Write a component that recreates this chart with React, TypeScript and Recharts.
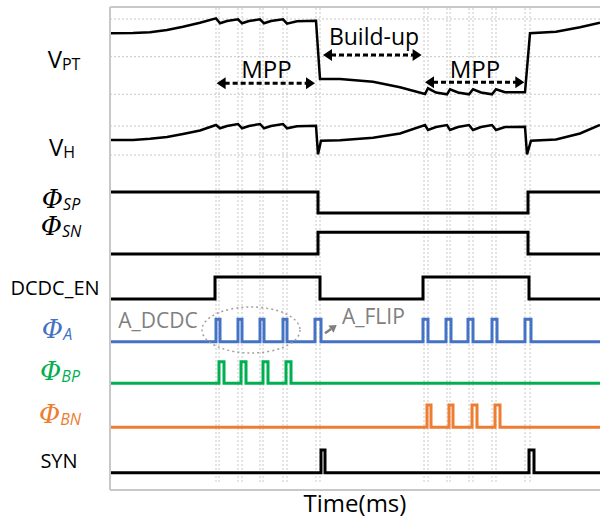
import React from 'react';
import { LineChart, Line, XAxis, YAxis, ReferenceLine, ReferenceDot } from 'recharts';

// time axis in ms
const T_END = 9.8;

// analog traces (normalised)
const vptTime = [0, 0.46, 0.8, 1.14, 1.46, 1.8, 2.12, 2.2, 2.34, 2.56, 2.64, 2.78, 3.0, 3.08, 3.22, 3.46, 3.54, 3.74, 4.12, 4.2, 4.6, 5.26, 5.8, 6.3, 6.36, 6.52, 6.74, 6.8, 6.96, 7.18, 7.26, 7.42, 7.64, 7.72, 7.9, 8.3, 8.4, 8.92, 9.4, 9.8];
const vptValue = [0.81, 0.814, 0.823, 0.854, 0.898, 0.951, 1.009, 0.943, 0.973, 0.996, 0.943, 0.973, 0.996, 0.943, 0.973, 0.996, 0.938, 0.969, 0.977, 0.203, 0.203, 0.167, 0.093, 0.004, 0.08, 0.024, 0, 0.066, 0.024, 0, 0.066, 0.024, 0, 0.066, 0.027, 0.027, 0.81, 0.831, 0.89, 0.951];

const vhTime = [0, 0.46, 0.8, 1.14, 1.46, 1.8, 2.12, 2.2, 2.34, 2.56, 2.64, 2.78, 3.0, 3.08, 3.22, 3.46, 3.54, 3.74, 4.12, 4.16, 4.22, 4.6, 5.26, 5.8, 6.3, 6.36, 6.52, 6.74, 6.8, 6.96, 7.18, 7.26, 7.42, 7.64, 7.72, 7.9, 8.3, 8.34, 8.42, 8.92, 9.4, 9.8];
const vhValue = [0.517, 0.517, 0.559, 0.621, 0.724, 0.845, 1.034, 0.921, 1.0, 1.069, 0.921, 1.0, 1.069, 0.921, 1.0, 1.069, 0.921, 0.993, 1.01, 0.024, 0.493, 0.507, 0.597, 0.741, 1.034, 0.862, 0.966, 1.034, 0.862, 0.966, 1.034, 0.862, 0.966, 1.034, 0.862, 0.966, 0.976, 0.024, 0.493, 0.534, 0.741, 1.034];

// digital signals
const phiSpStart = 1;
const phiSpToggles = [4.16, 8.36];
const phiSnStart = 0;
const phiSnToggles = [4.16, 8.36];
const dcdcEnPulses = [[2.1, 4.2], [6.26, 8.38]];
const phiAPulses = [[2.12, 2.2], [2.56, 2.64], [3.0, 3.08], [3.46, 3.54], [4.1, 4.22], [6.26, 6.36], [6.72, 6.82], [7.16, 7.26], [7.64, 7.74], [8.3, 8.42]];
const phiBpPulses = [[2.18, 2.28], [2.62, 2.72], [3.06, 3.16], [3.52, 3.62]];
const phiBnPulses = [[6.34, 6.42], [6.78, 6.86], [7.24, 7.34], [7.7, 7.8]];
const synPulses = [[4.22, 4.3], [8.38, 8.48]];

// dotted time markers
const gridTimes = [2.12, 2.18, 2.56, 2.64, 3.0, 3.06, 3.46, 3.54, 4.12, 4.2, 6.28, 6.36, 6.74, 6.8, 7.18, 7.26, 7.64, 7.72, 8.3, 8.4];

// lane layout: plotted value = base + level * amp (y domain 0..483)
const LANES: Record<string, { base: number; amp: number }> = {
  vpt: { base: 395.7, amp: 75.3 },
  vh: { base: 335, amp: 29 },
  sp: { base: 277, amp: 21 },
  sn: { base: 236, amp: 21.7 },
  en: { base: 191, amp: 22 },
  a: { base: 148.3, amp: 22.4 },
  bp: { base: 106.7, amp: 21.6 },
  bn: { base: 62.7, amp: 22.3 },
  syn: { base: 17.3, amp: 22.7 },
};
const Y_MAX = 483;

const lane = (key: string, v: number) => LANES[key].base + v * LANES[key].amp;

const analog = (key: string, ts: number[], vs: number[]) => ts.map((t, i) => ({ t, y: lane(key, vs[i]) }));

const fromPulses = (key: string, pulses: number[][]) => {
  const pts = [{ t: 0, y: lane(key, 0) }];
  pulses.forEach(([a, b]) => {
    pts.push({ t: a, y: lane(key, 1) });
    pts.push({ t: b, y: lane(key, 0) });
  });
  pts.push({ t: T_END, y: lane(key, 0) });
  return pts;
};

const fromToggles = (key: string, start: number, toggles: number[]) => {
  let l = start;
  const pts = [{ t: 0, y: lane(key, l) }];
  toggles.forEach((t) => {
    l = 1 - l;
    pts.push({ t, y: lane(key, l) });
  });
  pts.push({ t: T_END, y: lane(key, l) });
  return pts;
};

const vptData = analog('vpt', vptTime, vptValue);
const vhData = analog('vh', vhTime, vhValue);
const spData = fromToggles('sp', phiSpStart, phiSpToggles);
const snData = fromToggles('sn', phiSnStart, phiSnToggles);
const enData = fromPulses('en', dcdcEnPulses);
const aData = fromPulses('a', phiAPulses);
const bpData = fromPulses('bp', phiBpPulses);
const bnData = fromPulses('bn', phiBnPulses);
const synData = fromPulses('syn', synPulses);

const gridLevels = [lane('vpt', 0), lane('vpt', 0.5), lane('vpt', 1), lane('vh', 0), lane('vh', 1)];

const BLUE = '#4472C4';
const GREEN = '#00B050';
const ORANGE = '#ED7D31';
const GRAY = '#C8C8C8';

const sigLabels = [
  { value: 422.3, main: 'V', sub: 'PT', color: '#000', cx: 64, phi: false },
  { value: 334, main: 'V', sub: 'H', color: '#000', cx: 62, phi: false },
  { value: 282, main: 'Φ', sub: 'SP', color: '#000', cx: 61, phi: true },
  { value: 255, main: 'Φ', sub: 'SN', color: '#000', cx: 61, phi: true },
  { value: 195, main: 'DCDC_EN', sub: '', color: '#000', cx: 55, phi: false },
  { value: 152, main: 'Φ', sub: 'A', color: BLUE, cx: 57, phi: true },
  { value: 110, main: 'Φ', sub: 'BP', color: GREEN, cx: 60, phi: true },
  { value: 67, main: 'Φ', sub: 'BN', color: ORANGE, cx: 60, phi: true },
  { value: 22, main: 'SYN', sub: '', color: '#000', cx: 59, phi: false },
];

function LabelTick(props: any) {
  const { y, payload } = props;
  const lab = sigLabels.find((l) => Math.abs(l.value - payload.value) < 0.01);
  if (!lab) return null;
  return (
    <text x={lab.cx} y={y} textAnchor="middle" fill={lab.color} fontFamily="Open Sans">
      {lab.phi ? (
        <tspan fontFamily="DejaVu Serif" fontStyle="italic" fontSize={26}>{lab.main}</tspan>
      ) : (
        <tspan fontSize={lab.sub ? 24 : 20}>{lab.main}</tspan>
      )}
      {lab.sub ? (
        <tspan fontSize={16} dy={2} fontStyle={lab.phi ? 'italic' : 'normal'}>{lab.sub}</tspan>
      ) : null}
    </text>
  );
}

function DoubleArrow(props: any) {
  const { x1, y1, x2, y2 } = props;
  const h = 8;
  const w = 6;
  return (
    <g>
      <line x1={x1 + h} y1={y1} x2={x2 - h} y2={y2} stroke="#000" strokeWidth={3} strokeDasharray="5 3" />
      <polygon points={`${x1},${y1} ${x1 + h + 1},${y1 - w} ${x1 + h + 1},${y1 + w}`} fill="#000" />
      <polygon points={`${x2},${y2} ${x2 - h - 1},${y2 - w} ${x2 - h - 1},${y2 + w}`} fill="#000" />
    </g>
  );
}

function GrayArrow(props: any) {
  const { x1, y1, x2, y2 } = props;
  const dx = x2 - x1;
  const dy = y2 - y1;
  const len = Math.sqrt(dx * dx + dy * dy);
  const ux = dx / len;
  const uy = dy / len;
  const h = 7;
  const w = 4.5;
  const bx = x2 - ux * h;
  const by = y2 - uy * h;
  return (
    <g>
      <line x1={x1} y1={y1} x2={bx} y2={by} stroke="#7F7F7F" strokeWidth={2.5} />
      <polygon
        points={`${x2},${y2} ${bx - uy * w},${by + ux * w} ${bx + uy * w},${by - ux * w}`}
        fill="#7F7F7F"
      />
    </g>
  );
}

const textShape = (label: string, size: number, color: string, anchor: string) => (p: any) => (
  <text x={p.cx} y={p.cy} textAnchor={anchor} fontFamily="Open Sans" fontSize={size} fill={color}>
    {label}
  </text>
);

const ellipseShape = (p: any) => (
  <ellipse cx={p.cx} cy={p.cy} rx={49} ry={23} fill="none" stroke="#A0A0A0" strokeWidth={1.5} strokeDasharray="2 3" />
);

export default function App() {
  const lineCommon = { dataKey: 'y', dot: false, isAnimationActive: false, yAxisId: 'lab', activeDot: false } as const;
  return (
    <div style={{ position: 'absolute', left: 0, top: 0, width: 600, height: 521, background: '#fff' }}>
      <LineChart width={600} height={521} margin={{ top: 7, right: 0, bottom: 0, left: 0 }}>
        <XAxis
          type="number"
          dataKey="t"
          domain={[0, T_END]}
          tick={false}
          tickLine={false}
          axisLine={{ stroke: GRAY, strokeWidth: 2 }}
          height={31}
          allowDataOverflow
          label={{ value: 'Time(ms)', position: 'insideBottom', offset: 9, fontSize: 24, fontFamily: 'Open Sans', fill: '#000' }}
        />
        <YAxis
          yAxisId="lab"
          type="number"
          domain={[0, Y_MAX]}
          ticks={sigLabels.map((l) => l.value)}
          interval={0}
          width={110}
          tickLine={false}
          axisLine={{ stroke: GRAY, strokeWidth: 2 }}
          tick={(p: any) => <LabelTick {...p} />}
          allowDataOverflow
        />
        <ReferenceLine yAxisId="lab" y={Y_MAX} stroke={GRAY} strokeWidth={2} />
        {gridLevels.map((v) => (
          <ReferenceLine key={`h${v}`} yAxisId="lab" y={v} stroke={GRAY} strokeWidth={1} strokeDasharray="2 2" />
        ))}
        {gridTimes.map((t) => (
          <ReferenceLine
            key={`v${t}`}
            yAxisId="lab"
            segment={[{ x: t, y: 8 }, { x: t, y: Y_MAX }]}
            stroke={GRAY}
            strokeWidth={1}
            strokeDasharray="2 2"
          />
        ))}

        <Line {...lineCommon} data={vptData} type="linear" stroke="#000" strokeWidth={2.5} />
        <Line {...lineCommon} data={vhData} type="linear" stroke="#000" strokeWidth={2.5} />
        <Line {...lineCommon} data={spData} type="stepAfter" stroke="#000" strokeWidth={3} />
        <Line {...lineCommon} data={snData} type="stepAfter" stroke="#000" strokeWidth={3} />
        <Line {...lineCommon} data={enData} type="stepAfter" stroke="#000" strokeWidth={3} />
        <Line {...lineCommon} data={aData} type="stepAfter" stroke={BLUE} strokeWidth={3} />
        <Line {...lineCommon} data={bpData} type="stepAfter" stroke={GREEN} strokeWidth={3} />
        <Line {...lineCommon} data={bnData} type="stepAfter" stroke={ORANGE} strokeWidth={3} />
        <Line {...lineCommon} data={synData} type="stepAfter" stroke="#000" strokeWidth={3} />

        <ReferenceLine yAxisId="lab" segment={[{ x: 2.133, y: 406.7 }, { x: 4.1, y: 406.7 }]} shape={(p: any) => <DoubleArrow {...p} />} />
        <ReferenceLine yAxisId="lab" segment={[{ x: 4.26, y: 435 }, { x: 6.233, y: 435 }]} shape={(p: any) => <DoubleArrow {...p} />} />
        <ReferenceLine yAxisId="lab" segment={[{ x: 6.3, y: 407.7 }, { x: 8.286, y: 407.7 }]} shape={(p: any) => <DoubleArrow {...p} />} />
        <ReferenceLine yAxisId="lab" segment={[{ x: 4.3, y: 156.7 }, { x: 4.534, y: 165 }]} shape={(p: any) => <GrayArrow {...p} />} />

        <ReferenceDot yAxisId="lab" x={3.13} y={411.7} r={0} shape={textShape('MPP', 24, '#000', 'middle')} />
        <ReferenceDot yAxisId="lab" x={5.28} y={445} r={0} shape={textShape('Build-up', 23, '#000', 'middle')} />
        <ReferenceDot yAxisId="lab" x={7.3} y={411.7} r={0} shape={textShape('MPP', 24, '#000', 'middle')} />
        <ReferenceDot yAxisId="lab" x={0.96} y={162} r={0} shape={textShape('A_DCDC', 21, '#808080', 'middle')} />
        <ReferenceDot yAxisId="lab" x={4.64} y={166} r={0} shape={textShape('A_FLIP', 21, '#808080', 'start')} />
        <ReferenceDot yAxisId="lab" x={2.82} y={160} r={0} shape={ellipseShape} />
      </LineChart>
    </div>
  );
}
